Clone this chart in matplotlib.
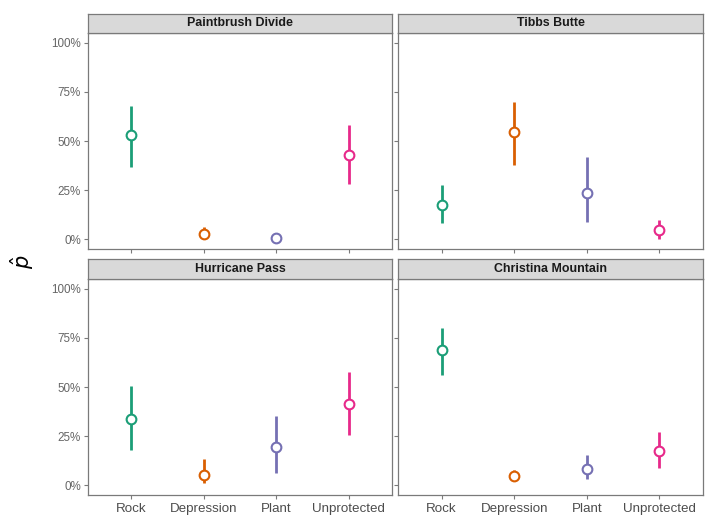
import matplotlib
matplotlib.use("Agg")
import matplotlib.pyplot as plt
from matplotlib.ticker import PercentFormatter

plt.rcParams["font.family"] = ["Liberation Sans", "DejaVu Sans"]

# Data (proportions)
sites = ["Paintbrush Divide", "Tibbs Butte", "Hurricane Pass", "Christina Mountain"]
microsites = ["Rock", "Depression", "Plant", "Unprotected"]
colors = ["#1B9E77", "#D95F02", "#7570B3", "#E7298A"]

p_hat = {
    "Paintbrush Divide": [0.532, 0.026, 0.005, 0.428],
    "Tibbs Butte": [0.173, 0.546, 0.235, 0.046],
    "Hurricane Pass": [0.338, 0.052, 0.192, 0.413],
    "Christina Mountain": [0.690, 0.049, 0.083, 0.173],
}
lower = {
    "Paintbrush Divide": [0.370, 0.005, 0.000, 0.282],
    "Tibbs Butte": [0.080, 0.380, 0.087, 0.000],
    "Hurricane Pass": [0.180, 0.010, 0.061, 0.257],
    "Christina Mountain": [0.563, 0.027, 0.030, 0.087],
}
upper = {
    "Paintbrush Divide": [0.680, 0.064, 0.015, 0.583],
    "Tibbs Butte": [0.275, 0.700, 0.420, 0.097],
    "Hurricane Pass": [0.503, 0.133, 0.350, 0.576],
    "Christina Mountain": [0.800, 0.078, 0.155, 0.273],
}

W, H = 715, 521
fig = plt.figure(figsize=(W / 100, H / 100), dpi=100)
fig.patch.set_facecolor("white")

# panel boxes in pixels: (left, right), (strip top, plot top, plot bottom)
cols = [(88, 392), (398, 703)]
rows = [(14, 33, 249), (259, 279, 495)]
border = "#7a7a7a"

for i, site in enumerate(sites):
    r, c = divmod(i, 2)
    x0, x1 = cols[c]
    s0, p0, p1 = rows[r]
    ax = fig.add_axes([x0 / W, 1 - p1 / H, (x1 - x0) / W, (p1 - p0) / H])
    sax = fig.add_axes([x0 / W, 1 - p0 / H, (x1 - x0) / W, (p0 - s0) / H])

    xs = range(len(microsites))
    for j in xs:
        ax.plot([j, j], [lower[site][j], upper[site][j]], color=colors[j],
                lw=2.0, solid_capstyle="butt", zorder=2)
        ax.plot(j, p_hat[site][j], "o", ms=7, mfc="white", mec=colors[j],
                mew=1.5, zorder=3)

    ax.set_xlim(-0.6, 3.6)
    ax.set_ylim(-0.05, 1.05)
    ax.set_yticks([0, 0.25, 0.5, 0.75, 1.0])
    ax.yaxis.set_major_formatter(PercentFormatter(1.0, decimals=0))
    ax.set_xticks(list(xs))
    if r == 1:
        ax.set_xticklabels(microsites)
    else:
        ax.set_xticklabels([])
    if c == 1:
        ax.set_yticklabels([])
    ax.tick_params(axis="y", colors=border, labelcolor="#666666", labelsize=8.4,
                   length=3, width=0.8, pad=2)
    ax.tick_params(axis="x", colors=border, labelcolor="#4D4D4D", labelsize=9.6,
                   length=3, width=0.8, pad=3)
    for sp in ax.spines.values():
        sp.set_color(border)
        sp.set_linewidth(0.9)

    sax.set_facecolor("#D9D9D9")
    sax.set_xticks([])
    sax.set_yticks([])
    for sp in sax.spines.values():
        sp.set_color(border)
        sp.set_linewidth(0.9)
    sax.text(0.5, 0.5, site, transform=sax.transAxes, ha="center", va="center",
             fontsize=8.9, fontweight="bold", color="#1A1A1A")

fig.text(22 / W, 1 - 262 / H, r"$\hat{p}$", rotation=90, ha="center",
         va="center", fontsize=15, color="black")

fig.savefig("out.png", dpi=100)
